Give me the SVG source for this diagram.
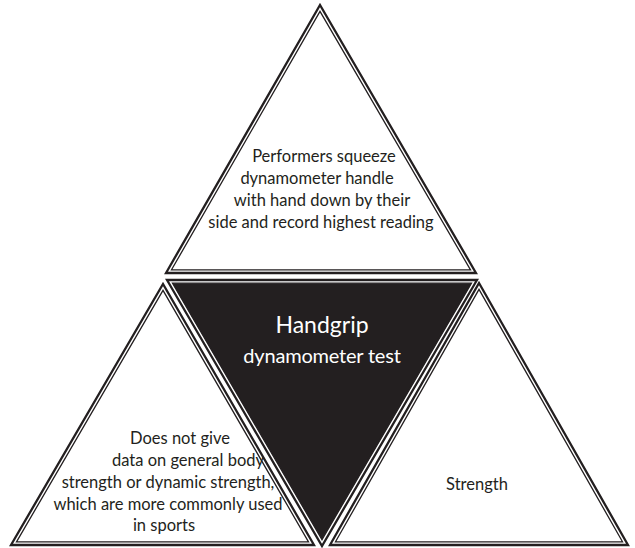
<svg xmlns="http://www.w3.org/2000/svg" width="635" height="548" viewBox="0 0 635 548">
<style>
.outer{fill:#fff;stroke:#231f20;stroke-width:2.3;stroke-linejoin:miter;stroke-miterlimit:20}
.inner{fill:none;stroke:#231f20;stroke-width:1.3;stroke-linejoin:miter;stroke-miterlimit:20}
.innerfill{fill:#231f20;stroke:#231f20;stroke-width:1.3;stroke-linejoin:miter;stroke-miterlimit:20}
.t{font-family:Lato,"Liberation Sans",sans-serif;font-size:16.5px;fill:#231f20;text-anchor:middle}
.w{font-family:Lato,"Liberation Sans",sans-serif;fill:#fff;text-anchor:middle}
</style>
<rect width="635" height="548" fill="#fff"/>
<g id="top">
<polygon class="outer" points="320,5 166,273 476,273"/>
<polygon class="inner" points="320,11.4 171.5,269.8 470.5,269.8"/>
<text class="t" x="324" y="162">Performers squeeze</text>
<text class="t" x="317" y="184">dynamometer handle</text>
<text class="t" x="322" y="206">with hand down by their</text>
<text class="t" x="321" y="228">side and record highest reading</text>
</g>
<g id="center">
<polygon class="outer" points="167,280 477,280 322,546"/>
<polygon class="innerfill" points="172.5,283.2 471.5,283.2 322,539.6"/>
<text class="w" x="322" y="333" font-size="23">Handgrip</text>
<text class="w" x="322" y="363" font-size="20" letter-spacing="-0.2">dynamometer test</text>
</g>
<g id="left">
<polygon class="outer" points="163,284 11,545 314,545"/>
<polygon class="inner" points="163,290.4 16.5,541.8 308.5,541.8"/>
<text class="t" x="180" y="444">Does not give</text>
<text class="t" x="188" y="466">data on general body</text>
<text class="t" x="168" y="488">strength or dynamic strength,</text>
<text class="t" x="168" y="510">which are more commonly used</text>
<text class="t" x="164" y="531">in sports</text>
</g>
<g id="right">
<polygon class="outer" points="479,283 330,545 628,545"/>
<polygon class="inner" points="479,289.4 335.5,541.8 622.5,541.8"/>
<text class="t" x="477" y="490">Strength</text>
</g>
<g id="connectors"/>
</svg>
